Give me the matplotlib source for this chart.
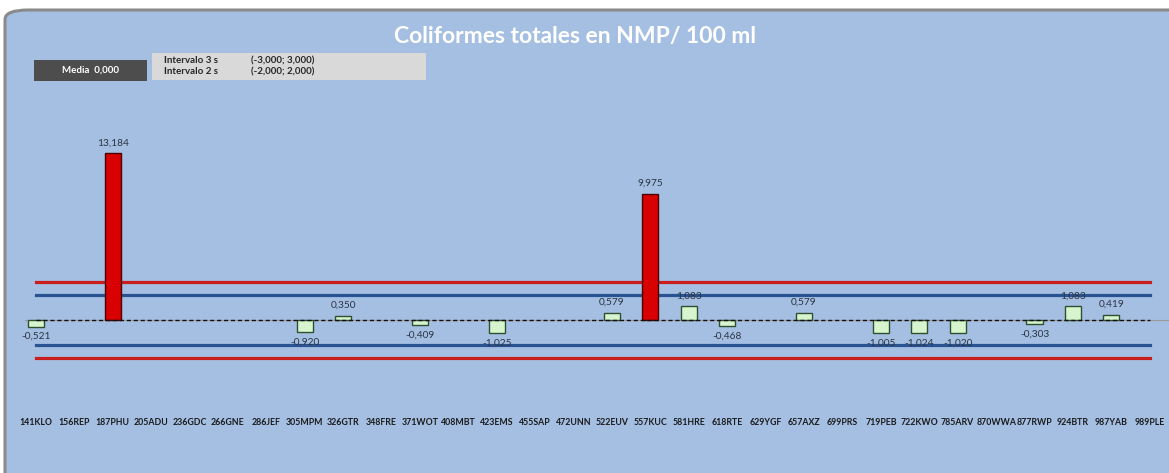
import matplotlib
matplotlib.use("Agg")
import matplotlib.pyplot as plt
import matplotlib.patches as mpatches
import numpy as np

labs = ["141KLO", "156REP", "187PHU", "205ADU", "236GDC", "266GNE", "286JEF", "305MPM",
        "326GTR", "348FRE", "371WOT", "408MBT", "423EMS", "455SAP", "472UNN", "522EUV",
        "557KUC", "581HRE", "618RTE", "629YGF", "657AXZ", "699PRS", "719PEB", "722KWO",
        "785ARV", "870WWA", "877RWP", "924BTR", "987YAB", "989PLE"]
# z-scores, None = no result
vals = [-0.521, None, 13.184, None, None, None, None, -0.920,
        0.350, None, -0.409, None, -1.025, None, None, 0.579,
        9.975, 1.083, -0.468, None, 0.579, None, -1.005, -1.024,
        -1.020, None, -0.303, 1.083, 0.419, None]
media = 0.0
lim3 = 3.0
lim2 = 2.0

W, H = 1169, 473
bg = "#a5bfe3"
plt.rcParams["font.family"] = ["Lato", "DejaVu Sans"]

fig = plt.figure(figsize=(W / 100, H / 100), dpi=100)
fig.patch.set_facecolor("white")

# chart frame (rounded, cut off at right/bottom like the screenshot)
frame = mpatches.FancyBboxPatch((5 / W, -0.2), 1.2, 1 - 10 / H + 0.2,
                                boxstyle="round,pad=0,rounding_size=0.02",
                                transform=fig.transFigure, facecolor=bg,
                                edgecolor="#8a8a8a", lw=2.2, zorder=-5)
fig.patches.append(frame)

zero_px = 320
scale = 12.67
ax_top, ax_bot = 100, 405
ax = fig.add_axes([25 / W, 1 - ax_bot / H, 1 - 25 / W, (ax_bot - ax_top) / H])
ax.set_zorder(1)
ax.set_facecolor("none")
ax.patch.set_alpha(0)
ax.set_xlim(-0.28, 29.5)
ax.set_ylim(-(ax_bot - zero_px) / scale, (zero_px - ax_top) / scale)
for s in ax.spines.values():
    s.set_visible(False)
ax.set_yticks([])
x = np.arange(len(labs))
ax.set_xticks(x)
ax.set_xticklabels(labs, fontsize=6.3, fontweight="bold", color="#1a1a1a")
ax.tick_params(axis="x", length=0, pad=9)

# reference lines
ax.axhline(0, color="#9a9a9a", lw=0.8, zorder=1)
n = len(labs) - 1
ax.plot([0, n], [lim3, lim3], color="#c81e1e", lw=2.3, zorder=2)
ax.plot([0, n], [-lim3, -lim3], color="#c81e1e", lw=2.3, zorder=2)
ax.plot([0, n], [lim2, lim2], color="#2a5393", lw=2.3, zorder=2)
ax.plot([0, n], [-lim2, -lim2], color="#2a5393", lw=2.3, zorder=2)
ax.plot([0, n], [media, media], color="#111111", lw=1.0, ls=(0, (3, 2)), zorder=4)

for i, v in enumerate(vals):
    if v is None:
        continue
    out = abs(v) > lim3
    fc = "#d80000" if out else "#d6f5cf"
    ec = "#4a0000" if out else "#2f4f2f"
    ax.bar(x[i], v, width=0.42, color=fc, edgecolor=ec, lw=1.0, zorder=3)
    txt = f"{v:.3f}".replace(".", ",")
    if v >= 0:
        ax.annotate(txt, (x[i], v), xytext=(0, 4), textcoords="offset points",
                    ha="center", va="bottom", fontsize=7.3, color="#2b3440", zorder=5)
    else:
        ax.annotate(txt, (x[i], v), xytext=(0, -4), textcoords="offset points",
                    ha="center", va="top", fontsize=7.3, color="#2b3440", zorder=5)

# title
fig.text(575 / W, 1 - 37 / H, "Coliformes totales en NMP/ 100 ml", ha="center", va="center",
         fontsize=16.5, fontweight="bold", color="white")

# info boxes
fig.patches.append(mpatches.Rectangle((34 / W, 1 - 81 / H), 113 / W, 21 / H,
                                      transform=fig.transFigure, facecolor="#4d4d4d",
                                      edgecolor="none", zorder=3))
fig.text(90 / W, 1 - 70.5 / H, "Media  " + f"{media:.3f}".replace(".", ","),
         ha="center", va="center", fontsize=7, fontweight="bold", color="white")
fig.patches.append(mpatches.Rectangle((152 / W, 1 - 80 / H), 274 / W, 27 / H,
                                      transform=fig.transFigure, facecolor="#d9d9d9",
                                      edgecolor="none", zorder=3))
for k, (nm, lo) in enumerate([("Intervalo 3 s", lim3), ("Intervalo 2 s", lim2)]):
    yy = 1 - (60.5 + k * 11) / H
    fig.text(164 / W, yy, nm, ha="left", va="center", fontsize=7,
             fontweight="bold", color="#262626")
    rng = "(" + f"{-lo:.3f}".replace(".", ",") + "; " + f"{lo:.3f}".replace(".", ",") + ")"
    fig.text(251 / W, yy, rng, ha="left", va="center", fontsize=7,
             fontweight="bold", color="#262626")

fig.savefig("out.png", dpi=100)
